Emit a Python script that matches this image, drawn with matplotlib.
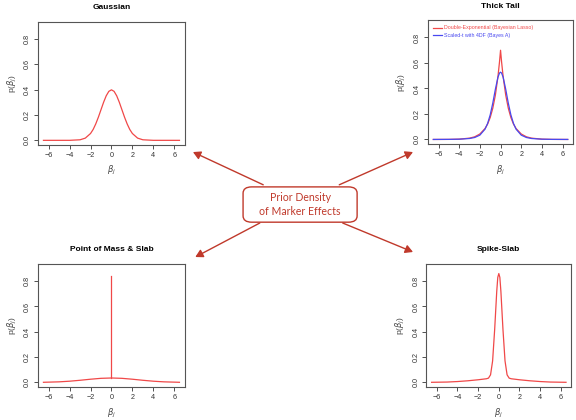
import matplotlib.pyplot as plt
from matplotlib.patches import FancyBboxPatch, FancyArrowPatch

# Verdier lest av figuren
beta_gauss = [-6.5, -4, -3, -2.5, -2, -1.75, -1.5, -1.25, -1, -0.75, -0.5, -0.25, 0,
              0.25, 0.5, 0.75, 1, 1.25, 1.5, 1.75, 2, 2.5, 3, 4, 6.5]
p_gauss = [0.0, 0.0001, 0.0044, 0.0175, 0.054, 0.086, 0.13, 0.183, 0.242, 0.301, 0.352, 0.387, 0.399,
           0.387, 0.352, 0.301, 0.242, 0.183, 0.13, 0.086, 0.054, 0.0175, 0.0044, 0.0001, 0.0]

beta_tail = [-6.5, -5, -4, -3, -2.5, -2, -1.5, -1.25, -1, -0.75, -0.5, -0.25, -0.1, 0,
             0.1, 0.25, 0.5, 0.75, 1, 1.25, 1.5, 2, 2.5, 3, 4, 5, 6.5]
p_lasso = [0.0001, 0.0006, 0.0026, 0.0105, 0.021, 0.043, 0.086, 0.121, 0.172, 0.245, 0.348, 0.494, 0.609, 0.70,
           0.609, 0.494, 0.348, 0.245, 0.172, 0.121, 0.086, 0.043, 0.021, 0.0105, 0.0026, 0.0006, 0.0001]
p_bayesA = [0.0002, 0.0008, 0.0022, 0.0076, 0.0155, 0.034, 0.081, 0.126, 0.193, 0.285, 0.394, 0.489, 0.521, 0.528,
            0.521, 0.489, 0.394, 0.285, 0.193, 0.126, 0.081, 0.034, 0.0155, 0.0076, 0.0022, 0.0008, 0.0002]

beta_slab = [-6.5, -5, -4, -3, -2, -1, 0, 1, 2, 3, 4, 5, 6.5]
p_slab = [0.0011, 0.0047, 0.0097, 0.017, 0.0254, 0.0324, 0.035, 0.0324, 0.0254, 0.017, 0.0097, 0.0047, 0.0011]
point_mass = [0.035, 0.84]  # vertikal strek ved beta = 0

beta_ss = [-6.5, -5, -4, -3, -2, -1.5, -1.2, -1, -0.8, -0.6, -0.4, -0.2, -0.1, 0,
           0.1, 0.2, 0.4, 0.6, 0.8, 1, 1.2, 1.5, 2, 3, 4, 5, 6.5]
p_ss = [0.001, 0.003, 0.007, 0.013, 0.021, 0.026, 0.029, 0.034, 0.06, 0.17, 0.42, 0.72, 0.83, 0.86,
        0.83, 0.72, 0.42, 0.17, 0.06, 0.034, 0.029, 0.026, 0.021, 0.013, 0.007, 0.003, 0.001]

x_ticks = [-6, -4, -2, 0, 2, 4, 6]
y_ticks = [0.0, 0.2, 0.4, 0.6, 0.8]

RED = "#f04848"
BLUE = "#4848f0"
ARROW = "#c0392b"

plt.rcParams['font.family'] = ['Liberation Sans', 'DejaVu Sans']

fig = plt.figure(figsize=(5.76, 4.2), dpi=100)

def panel(rect, title):
    ax = fig.add_axes(rect)
    ax.set_xlim(-7.02, 7.02)
    ax.set_ylim(-0.036, 0.936)
    ax.set_xticks(x_ticks)
    ax.set_yticks(y_ticks)
    ax.set_yticklabels(["0.0", "0.2", "0.4", "0.6", "0.8"], rotation=90, va="center")
    ax.tick_params(labelsize=5.2, length=3, width=0.6, colors="#333333", pad=2)
    for s in ax.spines.values():
        s.set_color("#555555")
        s.set_linewidth(0.8)
    ax.set_title(title, fontsize=6, fontweight="bold", pad=9)
    ax.set_xlabel(r"$\beta_j$", fontsize=6, color="#444444", labelpad=4)
    ax.set_ylabel(r"p($\beta_j$)", fontsize=6, color="#444444", labelpad=4)
    return ax

ax1 = panel([0.066, 0.655, 0.255, 0.293], "Gaussian")
ax1.plot(beta_gauss, p_gauss, color=RED, lw=0.9)

ax2 = panel([0.743, 0.657, 0.252, 0.295], "Thick Tail")
ax2.plot(beta_tail, p_lasso, color=RED, lw=0.9, label="Double-Exponential (Bayesian Lasso)")
ax2.plot(beta_tail, p_bayesA, color=BLUE, lw=0.9, label="Scaled-t with 4DF (Bayes A)")
ax2.legend(loc="upper left", frameon=False, fontsize=3.8, labelcolor="linecolor",
           handlelength=1.6, handletextpad=0.5, borderaxespad=0.6, labelspacing=0.5)

ax3 = panel([0.066, 0.0786, 0.255, 0.293], "Point of Mass & Slab")
ax3.plot(beta_slab, p_slab, color=RED, lw=0.9)
ax3.plot([0, 0], point_mass, color=RED, lw=0.9)

ax4 = panel([0.740, 0.0786, 0.252, 0.293], "Spike-Slab")
ax4.plot(beta_ss, p_ss, color=RED, lw=0.9)

# Boks i midten
box = FancyBboxPatch((0.422, 0.471), 0.198, 0.084, boxstyle="round,pad=0,rounding_size=0.015",
                     transform=fig.transFigure, facecolor="white", edgecolor=ARROW, lw=1.0)
fig.patches.append(box)
fig.text(0.521, 0.513, "Prior Density\nof Marker Effects", ha="center", va="center",
         fontsize=7.6, color=ARROW, family=["Lato", "DejaVu Sans"], linespacing=1.35)

# Piler ut til hvert panel
arrows = [((0.457, 0.560), (0.335, 0.638)),
          ((0.589, 0.560), (0.717, 0.638)),
          ((0.451, 0.469), (0.339, 0.388)),
          ((0.595, 0.469), (0.717, 0.400))]
for start, end in arrows:
    fig.patches.append(FancyArrowPatch(start, end, transform=fig.transFigure,
                                       arrowstyle="-|>,head_length=4.5,head_width=2.5",
                                       color=ARROW, lw=1.0, shrinkA=0, shrinkB=0))

fig.savefig("out.png", dpi=100)
